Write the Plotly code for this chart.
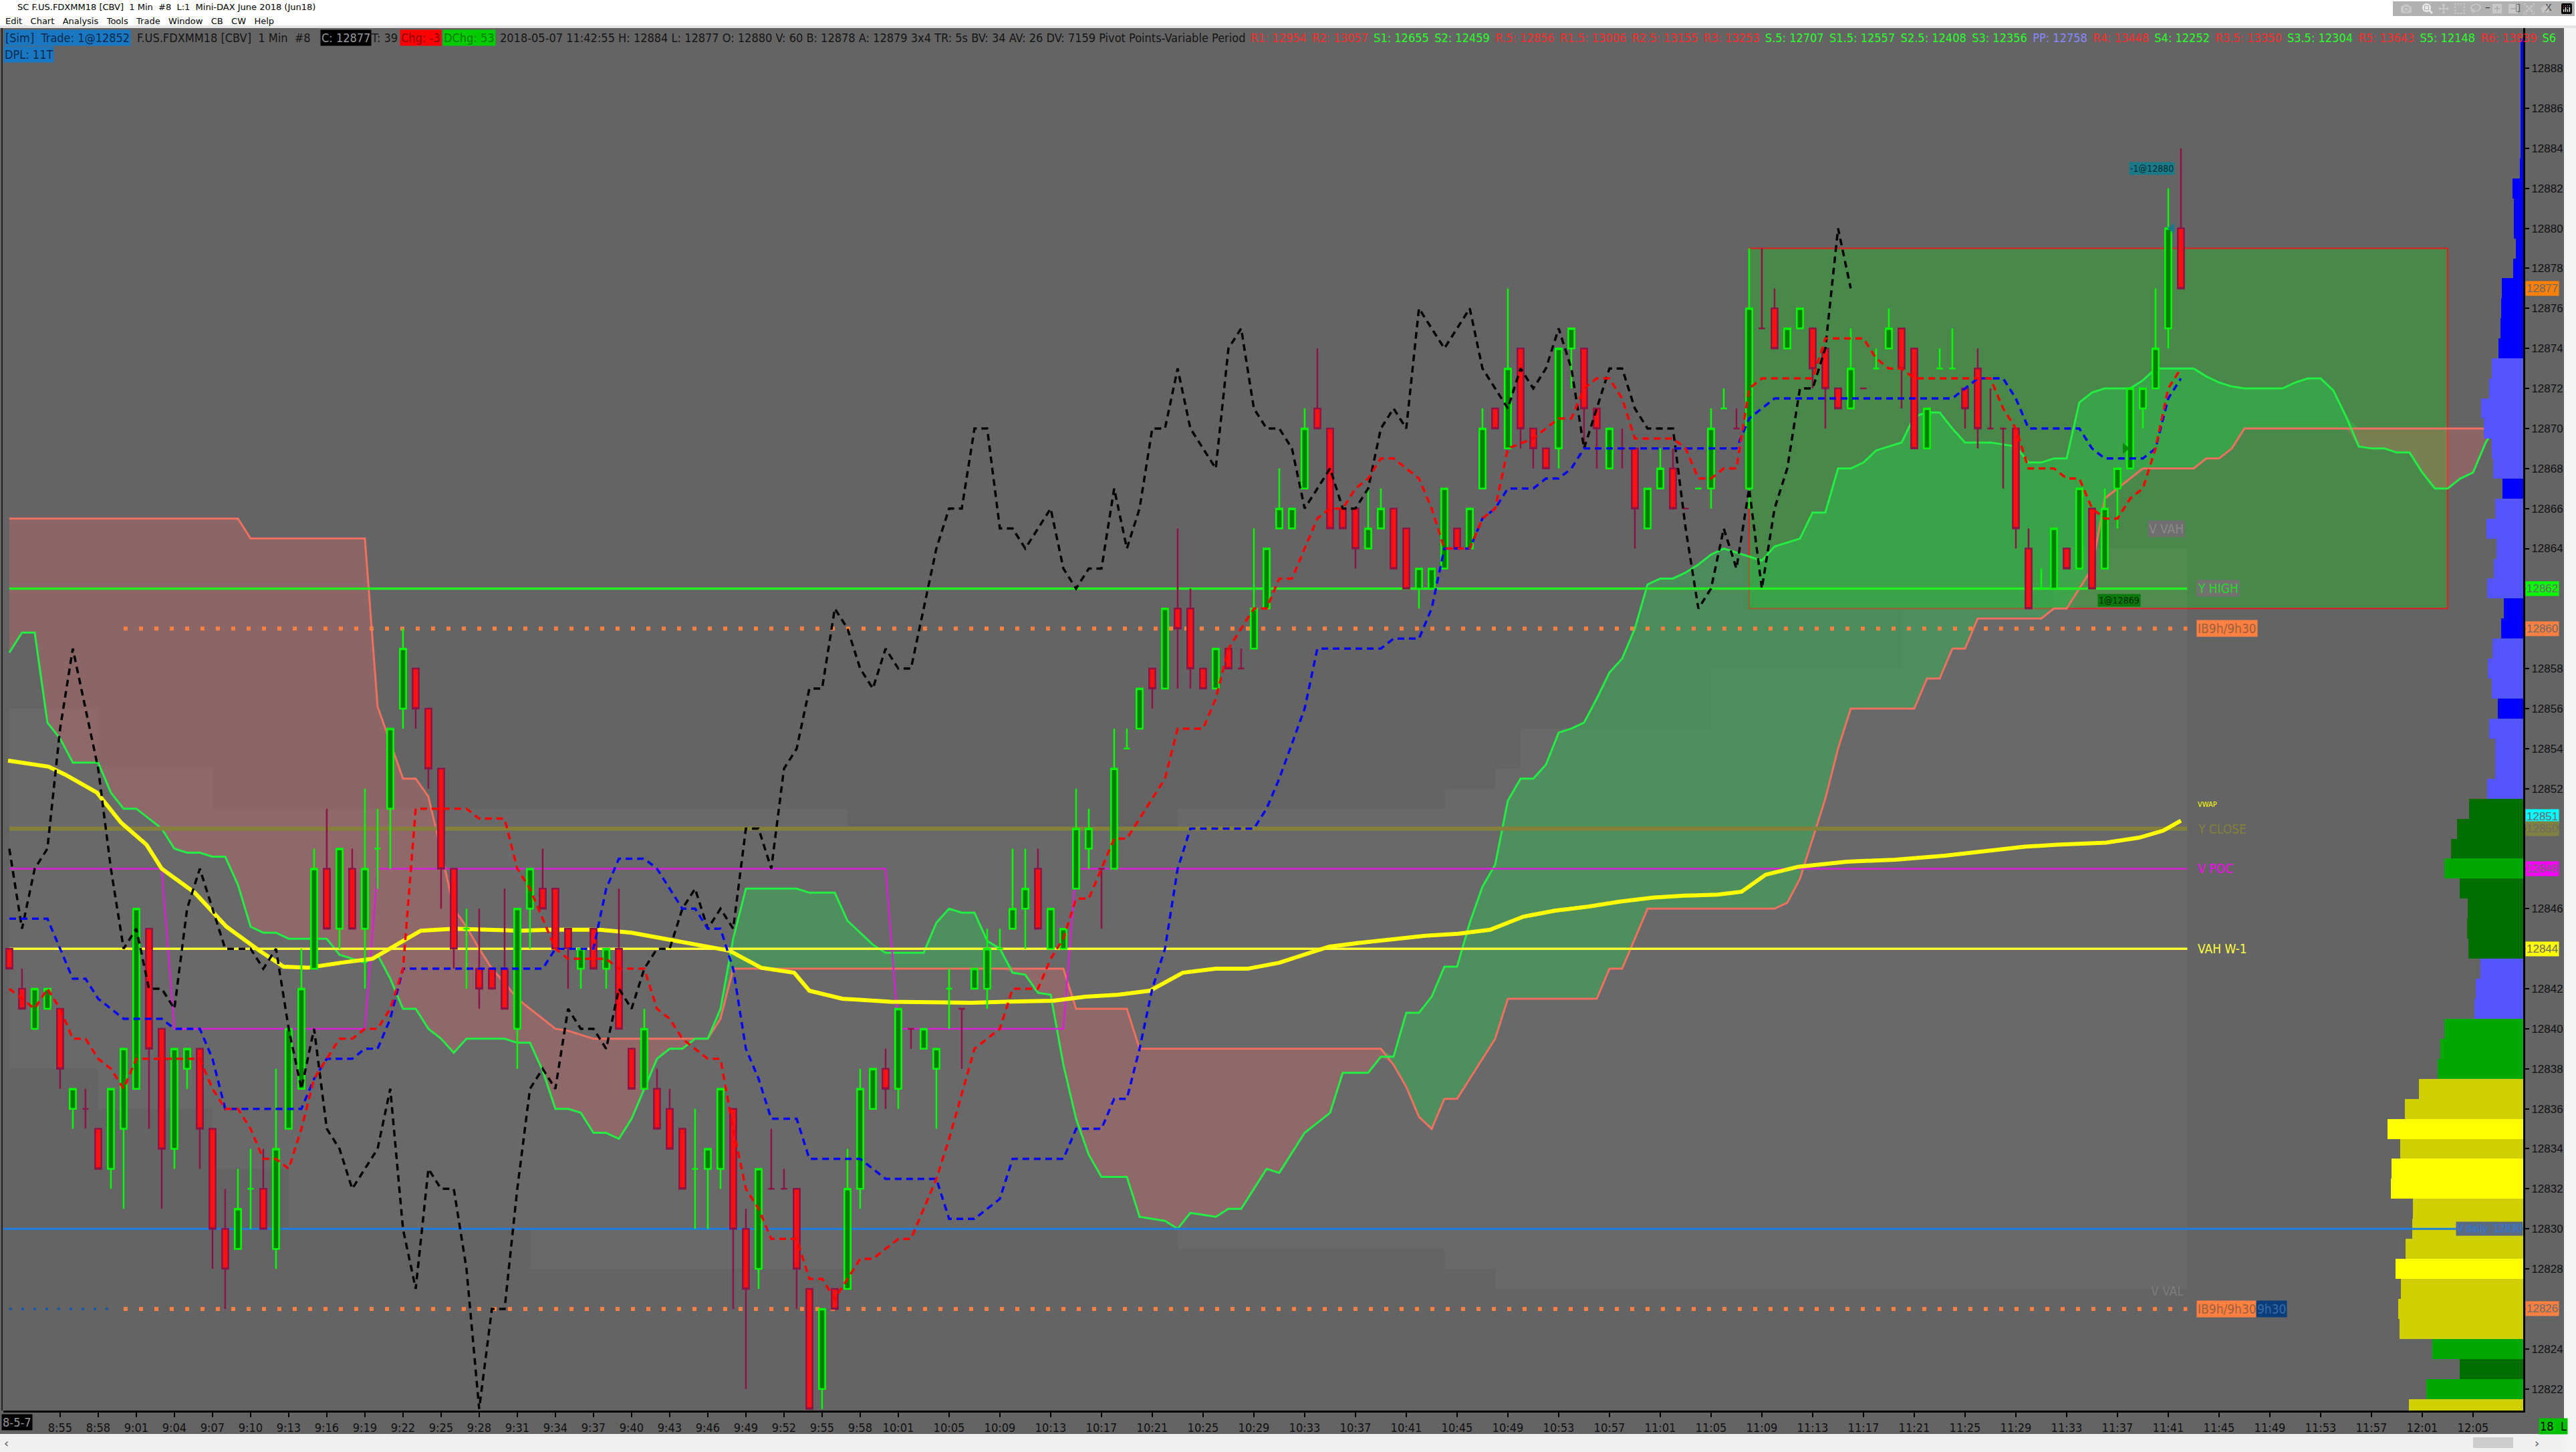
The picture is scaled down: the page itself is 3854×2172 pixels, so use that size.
import plotly.graph_objects as go

# ---------------- 1 minute bars, first bar at 8:51 ----------------
bar_open = [12844, 12842, 12840, 12841, 12841, 12836, 12836, 12835, 12833, 12835,
            12837, 12845, 12840, 12834, 12838, 12839, 12835, 12830, 12829, 12832,
            12832, 12829, 12835, 12837, 12843, 12848, 12845, 12848, 12845, 12849,
            12851, 12856, 12858, 12856, 12853, 12848, 12845, 12843, 12843, 12843,
            12840, 12846, 12847, 12847, 12845, 12843, 12845, 12843, 12844, 12839,
            12837, 12837, 12836, 12835, 12833, 12833, 12833, 12836, 12830, 12828,
            12832, 12832, 12832, 12827, 12822, 12827, 12827, 12832, 12836, 12838,
            12837, 12840, 12839, 12838, 12842, 12841, 12842, 12842, 12844, 12845,
            12846, 12848, 12844, 12844, 12847, 12849, 12848, 12848, 12854, 12855,
            12858, 12857, 12861, 12861, 12858, 12857, 12859, 12858, 12859, 12861,
            12865, 12865, 12867, 12871, 12870, 12866, 12866, 12864, 12865, 12866,
            12865, 12862, 12862, 12863, 12865, 12864, 12867, 12871, 12869, 12874,
            12870, 12869, 12869, 12874, 12874, 12871, 12868, 12869, 12869, 12865,
            12867, 12868, 12866, 12867, 12867, 12871, 12870, 12867, 12875, 12876,
            12874, 12875, 12875, 12874, 12872, 12871, 12872, 12873, 12874, 12875,
            12874, 12869, 12873, 12873, 12872, 12873, 12870, 12870, 12870, 12864,
            12862, 12862, 12864, 12863, 12866, 12863, 12867, 12868, 12871, 12872,
            12875, 12880]
bar_high = [12844, 12843, 12842, 12842, 12841, 12837, 12837, 12835, 12837, 12839,
            12846, 12845, 12840, 12839, 12839, 12839, 12835, 12832, 12833, 12834,
            12834, 12838, 12840, 12844, 12849, 12851, 12849, 12849, 12852, 12851,
            12855, 12860, 12858, 12856, 12853, 12848, 12846, 12846, 12843, 12847,
            12846, 12848, 12849, 12847, 12845, 12844, 12845, 12844, 12847, 12839,
            12841, 12838, 12837, 12835, 12836, 12834, 12837, 12836, 12831, 12833,
            12835, 12833, 12832, 12827, 12826, 12827, 12834, 12838, 12838, 12839,
            12841, 12840, 12840, 12839, 12843, 12841, 12843, 12845, 12845, 12849,
            12849, 12849, 12846, 12845, 12852, 12851, 12848, 12855, 12855, 12857,
            12858, 12861, 12865, 12862, 12858, 12859, 12859, 12859, 12865, 12864,
            12868, 12866, 12871, 12874, 12870, 12866, 12866, 12867, 12867, 12866,
            12865, 12863, 12863, 12867, 12865, 12866, 12871, 12871, 12877, 12874,
            12870, 12869, 12874, 12875, 12874, 12871, 12870, 12870, 12869, 12867,
            12869, 12869, 12866, 12867, 12871, 12872, 12871, 12879, 12879, 12877,
            12875, 12876, 12875, 12874, 12872, 12875, 12872, 12874, 12876, 12875,
            12874, 12871, 12874, 12875, 12872, 12874, 12872, 12870, 12870, 12865,
            12863, 12865, 12864, 12867, 12866, 12867, 12868, 12872, 12872, 12877,
            12882, 12884]
bar_low = [12843, 12841, 12840, 12841, 12837, 12835, 12835, 12833, 12832, 12831,
           12837, 12835, 12831, 12833, 12837, 12833, 12828, 12826, 12829, 12830,
           12830, 12828, 12835, 12837, 12843, 12845, 12844, 12845, 12842, 12847,
           12848, 12855, 12855, 12852, 12846, 12843, 12842, 12841, 12842, 12841,
           12838, 12844, 12846, 12844, 12842, 12842, 12843, 12842, 12840, 12837,
           12837, 12835, 12834, 12832, 12830, 12830, 12832, 12826, 12822, 12827,
           12832, 12832, 12826, 12821, 12821, 12826, 12827, 12831, 12836, 12836,
           12836, 12839, 12839, 12835, 12840, 12838, 12842, 12841, 12844, 12845,
           12844, 12845, 12844, 12844, 12847, 12848, 12845, 12848, 12854, 12855,
           12856, 12857, 12857, 12857, 12857, 12857, 12858, 12858, 12859, 12861,
           12865, 12865, 12867, 12870, 12865, 12865, 12863, 12864, 12865, 12863,
           12862, 12861, 12862, 12863, 12864, 12864, 12867, 12870, 12869, 12869,
           12868, 12868, 12868, 12872, 12869, 12868, 12868, 12868, 12864, 12865,
           12867, 12866, 12866, 12867, 12866, 12871, 12870, 12866, 12875, 12874,
           12874, 12875, 12872, 12870, 12871, 12871, 12872, 12873, 12874, 12871,
           12869, 12869, 12873, 12873, 12870, 12869, 12870, 12867, 12864, 12861,
           12862, 12862, 12863, 12863, 12862, 12863, 12865, 12868, 12870, 12872,
           12874, 12877]
bar_close = [12843, 12841, 12842, 12842, 12838, 12837, 12836, 12833, 12837, 12839,
             12846, 12839, 12834, 12839, 12839, 12835, 12830, 12828, 12831, 12832,
             12830, 12834, 12840, 12842, 12848, 12845, 12849, 12845, 12848, 12849,
             12855, 12859, 12856, 12853, 12848, 12844, 12845, 12842, 12842, 12841,
             12846, 12848, 12846, 12844, 12844, 12844, 12843, 12844, 12840, 12837,
             12840, 12835, 12834, 12832, 12833, 12834, 12837, 12830, 12827, 12833,
             12832, 12832, 12828, 12821, 12826, 12826, 12832, 12837, 12838, 12837,
             12841, 12840, 12840, 12839, 12842, 12841, 12843, 12844, 12844, 12846,
             12847, 12845, 12846, 12845, 12850, 12850, 12848, 12853, 12854, 12857,
             12857, 12861, 12860, 12858, 12857, 12859, 12858, 12858, 12861, 12864,
             12866, 12866, 12870, 12870, 12865, 12865, 12864, 12865, 12866, 12863,
             12862, 12863, 12863, 12867, 12864, 12866, 12870, 12870, 12873, 12870,
             12869, 12868, 12874, 12875, 12871, 12870, 12870, 12869, 12866, 12867,
             12868, 12866, 12866, 12867, 12870, 12871, 12870, 12876, 12875, 12874,
             12875, 12876, 12873, 12872, 12871, 12873, 12872, 12873, 12875, 12873,
             12869, 12871, 12873, 12873, 12871, 12870, 12870, 12870, 12865, 12861,
             12862, 12865, 12863, 12867, 12862, 12866, 12868, 12872, 12872, 12874,
             12880, 12877]
first_bar = 8 * 60 + 51
bar_minutes = [first_bar + i for i in range(len(bar_close))]
chikou_lag = 26

# ---------------- Ichimoku ----------------
tenkan_t = [531, 532, 533, 534, 535, 536, 537, 538, 539, 540, 541, 546, 547, 548, 549, 550, 551, 552,
            553, 554, 555, 556, 557, 558, 559, 560, 561, 562, 563, 567, 568, 570, 571, 572, 574, 575,
            578, 579, 581, 582, 583, 584, 586, 587, 588, 589, 590, 591, 593, 594, 595, 596, 597, 598,
            599, 601, 602, 604, 605, 607, 609, 610, 612, 613, 614, 615, 616, 617, 618, 619, 620, 622,
            623, 625, 626, 627, 629, 630, 631, 632, 633, 634, 635, 636, 637, 638, 639, 640, 641, 642,
            643, 644, 646, 647, 648, 649, 651, 652, 653, 654, 655, 656, 657, 658, 659, 662, 663, 664,
            665, 666, 667, 668, 669, 673, 674, 677, 678, 679, 680, 681, 687, 688, 689, 690, 692, 693,
            694, 695, 696, 697, 698, 699, 700, 701, 702]
tenkan_v = [12842, 12841.5, 12841, 12842, 12841, 12839.5, 12839.5, 12838.5, 12838, 12837, 12838.5,
            12838.5, 12837, 12836, 12836, 12835, 12833.5, 12833.5, 12833, 12835, 12837.5, 12838.5,
            12839.5, 12839.5, 12840, 12840, 12841, 12843, 12851, 12851, 12850.5, 12850.5, 12848,
            12847, 12844, 12843.5, 12843.5, 12843, 12843, 12841, 12840.5, 12839.5, 12838.5, 12838.5,
            12835, 12832, 12831, 12829.5, 12829.5, 12827.5, 12827.5, 12826.5, 12827.5, 12828.5,
            12828.5, 12829.5, 12829.5, 12832.5, 12834.5, 12839, 12840, 12842, 12842, 12843.5,
            12844.5, 12846.5, 12846.5, 12848, 12849.5, 12849.5, 12850.5, 12852.5, 12855, 12855,
            12856.5, 12859, 12861, 12861, 12862.5, 12862.5, 12864, 12865.5, 12866, 12866, 12867,
            12867.5, 12868.5, 12868.5, 12868, 12867.5, 12866, 12864, 12864, 12865.5, 12866, 12869,
            12869.5, 12870, 12870.5, 12870.5, 12872, 12872.5, 12872.5, 12871.5, 12869.5, 12869.5,
            12869, 12867.5, 12867.5, 12868, 12868, 12872, 12872.5, 12872.5, 12874.5, 12874.5,
            12873.5, 12873, 12873, 12872.5, 12872.5, 12871, 12870, 12868, 12868, 12867.5, 12867.5,
            12866, 12865.5, 12865.5, 12866.5, 12867, 12869, 12872, 12873]
kijun_t = [531, 534, 535, 536, 537, 538, 539, 540, 543, 544, 546, 547, 548, 554, 555, 556, 558, 559,
           560, 561, 562, 573, 574, 577, 578, 579, 581, 582, 583, 584, 585, 586, 587, 588, 589, 590,
           591, 593, 594, 598, 599, 600, 604, 605, 607, 609, 610, 614, 615, 617, 618, 619, 620, 621,
           622, 623, 624, 629, 630, 631, 633, 634, 639, 640, 642, 643, 644, 646, 647, 648, 649, 651,
           652, 653, 654, 655, 667, 668, 670, 684, 685, 686, 688, 689, 690, 694, 695, 696, 699, 700,
           701, 702]
kijun_v = [12845.5, 12845.5, 12844, 12842.5, 12842.5, 12841.5, 12841, 12840.5, 12840.5, 12840, 12840,
           12838.5, 12836, 12836, 12837.5, 12838.5, 12838.5, 12839, 12839, 12840.5, 12843, 12843,
           12844, 12844, 12847, 12848.5, 12848.5, 12848, 12847, 12846, 12846, 12845, 12845, 12843,
           12839, 12837.5, 12835.5, 12835.5, 12833.5, 12833.5, 12833, 12832.5, 12832.5, 12830.5,
           12830.5, 12831.5, 12833.5, 12833.5, 12835, 12835, 12836.5, 12836.5, 12839, 12842, 12844,
           12848, 12850, 12850, 12851, 12852.5, 12856, 12859, 12859, 12859.5, 12859.5, 12861, 12864,
           12864, 12865.5, 12866, 12867, 12867, 12867.5, 12867.5, 12868, 12869, 12869, 12870.5,
           12871.5, 12871.5, 12872, 12872.5, 12872.5, 12871.5, 12870, 12870, 12869, 12868.5,
           12868.5, 12869, 12871.5, 12872.5]

# senkou spans, one value per minute from 8:51 to 12:08
span_a = [12858.8, 12859.8, 12859.8, 12855.3, 12854.5, 12853.3, 12853.3, 12853.3, 12851.8, 12851.0,
          12851.0, 12850.5, 12850.0, 12849.0, 12848.8, 12848.8, 12848.6, 12848.6, 12847.2, 12845.1,
          12844.8, 12844.8, 12844.5, 12844.5, 12844.5, 12844.5, 12843.7, 12843.5, 12843.3, 12843.7,
          12842.5, 12841.0, 12841.0, 12840.0, 12839.5, 12838.8, 12839.5, 12839.5, 12839.5, 12839.5,
          12839.3, 12839.3, 12837.9, 12836.0, 12836.0, 12835.8, 12834.8, 12834.8, 12834.5, 12835.5,
          12837.0, 12838.5, 12839.0, 12839.0, 12839.5, 12839.5, 12841.0, 12844.5, 12847.0, 12847.0,
          12847.0, 12847.0, 12847.0, 12846.8, 12846.8, 12846.8, 12845.4, 12844.8, 12844.2, 12843.8,
          12843.8, 12843.8, 12843.8, 12845.3, 12846.0, 12845.8, 12845.8, 12844.4, 12844.0, 12842.8,
          12842.7, 12841.8, 12841.7, 12838.2, 12835.5, 12833.7, 12832.6, 12832.6, 12832.6, 12830.6,
          12830.5, 12830.4, 12830.0, 12830.8, 12830.7, 12830.6, 12831.0, 12831.0, 12832.0, 12833.0,
          12832.8, 12833.8, 12834.8, 12835.3, 12835.8, 12837.8, 12837.8, 12837.8, 12838.6, 12838.6,
          12840.8, 12840.8, 12841.6, 12843.1, 12843.1, 12845.3, 12847.1, 12848.2, 12851.4, 12852.5,
          12852.5, 12853.2, 12854.8, 12855.0, 12855.3, 12856.5, 12857.8, 12858.5, 12860.0, 12862.2,
          12862.5, 12862.5, 12862.8, 12863.2, 12863.7, 12864.0, 12863.8, 12863.6, 12863.4, 12864.1,
          12864.3, 12864.5, 12865.8, 12865.8, 12868.0, 12868.0, 12868.3, 12868.9, 12869.1, 12869.3,
          12870.6, 12870.8, 12870.8, 12870.0, 12869.3, 12869.3, 12869.3, 12869.2, 12869.1, 12868.3,
          12868.3, 12868.5, 12868.5, 12871.3, 12871.8, 12872.0, 12872.0, 12872.0, 12872.4, 12873.0,
          12873.0, 12873.0, 12873.0, 12872.6, 12872.3, 12872.1, 12872.0, 12872.0, 12872.0, 12872.0,
          12872.3, 12872.5, 12872.5, 12871.9, 12870.6, 12869.1, 12869.0, 12869.0, 12868.8, 12868.8,
          12867.8, 12867.0, 12867.0, 12867.5, 12867.8, 12869.3, 12870.3, 12871.0]
span_b = [12865.5, 12865.5, 12865.5, 12865.5, 12865.5, 12865.5, 12865.5, 12865.5, 12865.5, 12865.5,
          12865.5, 12865.5, 12865.5, 12865.5, 12865.5, 12865.5, 12865.5, 12865.5, 12865.5, 12864.5,
          12864.5, 12864.5, 12864.5, 12864.5, 12864.5, 12864.5, 12864.5, 12864.5, 12864.5, 12856.1,
          12854.3, 12852.5, 12852.5, 12851.6, 12848.9, 12846.0, 12845.1, 12844.0, 12843.0, 12842.3,
          12841.5, 12841.0, 12840.5, 12840.0, 12839.9, 12839.7, 12839.5, 12839.5, 12839.5, 12839.5,
          12839.5, 12839.5, 12839.5, 12839.5, 12839.5, 12839.5, 12840.5, 12843.0, 12843.0, 12843.0,
          12843.0, 12843.0, 12843.0, 12843.0, 12843.0, 12843.0, 12843.0, 12843.0, 12843.0, 12843.0,
          12843.0, 12843.0, 12843.0, 12843.0, 12843.0, 12843.0, 12843.0, 12843.0, 12843.0, 12843.0,
          12843.0, 12843.0, 12843.0, 12843.0, 12841.0, 12841.0, 12841.0, 12841.0, 12841.0, 12839.0,
          12839.0, 12839.0, 12839.0, 12839.0, 12839.0, 12839.0, 12839.0, 12839.0, 12839.0, 12839.0,
          12839.0, 12839.0, 12839.0, 12839.0, 12839.0, 12839.0, 12839.0, 12839.0, 12839.0, 12838.2,
          12837.1, 12835.6, 12835.0, 12836.5, 12836.5, 12837.5, 12838.5, 12839.5, 12841.5, 12841.5,
          12841.5, 12841.5, 12841.5, 12841.5, 12841.5, 12841.5, 12843.0, 12843.0, 12844.5, 12846.0,
          12846.0, 12846.0, 12846.0, 12846.0, 12846.0, 12846.0, 12846.0, 12846.0, 12846.0, 12846.0,
          12846.3, 12847.5, 12849.5, 12851.5, 12854.0, 12856.0, 12856.0, 12856.0, 12856.0, 12856.0,
          12856.0, 12857.5, 12857.5, 12859.0, 12859.0, 12860.5, 12860.5, 12860.5, 12860.5, 12860.5,
          12860.5, 12861.0, 12861.0, 12862.0, 12863.0, 12866.5, 12867.0, 12867.5, 12868.0, 12868.0,
          12868.0, 12868.0, 12868.0, 12868.5, 12868.5, 12869.0, 12870.0, 12870.0, 12870.0, 12870.0,
          12870.0, 12870.0, 12870.0, 12870.0, 12870.0, 12870.0, 12870.0, 12870.0, 12870.0, 12870.0,
          12870.0, 12870.0, 12870.0, 12870.0, 12870.0, 12870.0, 12870.0, 12870.0]
cloud_minutes = [531 + i for i in range(len(span_a))]

# ---------------- VWAP and developing value area ----------------
vwap_t = [530.9, 534.1, 535.4, 537.9, 539.8, 541.8, 543.0, 545.6, 548.1, 550.7, 552.6, 554.5, 557.1,
          559.6, 561.5, 563.4, 566.0, 568.5, 571.1, 573.6, 577.5, 580.0, 582.6, 585.1, 587.7, 590.2,
          592.8, 594.0, 596.6, 600.4, 606.8, 609.4, 613.2, 615.7, 618.3, 620.8, 623.4, 626.0, 628.5,
          631.0, 633.6, 634.9, 637.4, 640.0, 642.5, 645.1, 647.6, 650.2, 652.7, 655.3, 657.8, 660.4,
          662.9, 665.5, 667.4, 669.3, 671.9, 675.7, 679.5, 683.4, 687.2, 689.7, 692.3, 696.1, 698.7,
          700.6, 702.0]
vwap_v = [12853.4, 12853.1, 12852.7, 12851.8, 12850.3, 12849.2, 12848.0, 12846.8, 12845.1, 12843.9,
          12843.1, 12843.05, 12843.3, 12843.5, 12844.2, 12844.9, 12845.0, 12844.95, 12844.9, 12844.95,
          12844.95, 12844.8, 12844.5, 12844.2, 12843.9, 12843.05, 12842.8, 12841.9, 12841.5, 12841.35,
          12841.3, 12841.35, 12841.4, 12841.6, 12841.7, 12841.9, 12842.8, 12843.0, 12843.0, 12843.3,
          12843.8, 12844.1, 12844.3, 12844.5, 12844.65, 12844.75, 12844.95, 12845.6, 12845.9, 12846.1,
          12846.35, 12846.55, 12846.65, 12846.7, 12846.85, 12847.7, 12848.1, 12848.35, 12848.45,
          12848.65, 12848.9, 12849.1, 12849.2, 12849.3, 12849.55, 12849.9, 12850.4]
va_t = [531, 538, 547, 553, 572, 597, 606, 623, 644, 648, 650, 665, 680, 692, 702.5]
va_high = [12856, 12853, 12851, 12851, 12851, 12850, 12850, 12851, 12852, 12853, 12855, 12858, 12861,
           12864, 12864]
va_low = [12838, 12836, 12833, 12830, 12828, 12830, 12830, 12829, 12828, 12827, 12827, 12827, 12827,
          12827, 12827]

# developing POC (step line)
poc_t = [531, 543, 544, 559, 560, 600, 601, 614, 615, 702.5]
poc_v = [12848, 12848, 12840, 12840, 12848, 12848, 12840, 12840, 12848, 12848]

# ---------------- reference levels ----------------
y_high = 12862
ib_high = 12860
y_close = 12850
v_poc = 12848
vah_w1 = 12844
ib_low = 12826
v_daily = 12830
last_price = 12877

# ---------------- volume profile ----------------
profile_prices = [12889, 12888, 12887, 12886, 12885, 12884, 12883, 12882, 12881, 12880,
                  12879, 12878, 12877, 12876, 12875, 12874, 12873, 12872, 12871, 12870,
                  12869, 12868, 12867, 12866, 12865, 12864, 12863, 12862, 12861, 12860,
                  12859, 12858, 12857, 12856, 12855, 12854, 12853, 12852, 12851, 12850,
                  12849, 12848, 12847, 12846, 12845, 12844, 12843, 12842, 12841, 12840,
                  12839, 12838, 12837, 12836, 12835, 12834, 12833, 12832, 12831, 12830,
                  12829, 12828, 12827, 12826, 12825, 12824, 12823, 12822, 12821]
profile_volume = [4, 4, 4, 4, 4, 4, 5, 16, 14, 14,
                  11, 15, 32, 33, 34, 37, 47, 51, 63, 59,
                  47, 45, 31, 42, 55, 40, 44, 54, 29, 33,
                  46, 53, 47, 38, 51, 42, 42, 54, 81, 99,
                  108, 118, 95, 83, 84, 82, 64, 71, 73, 118,
                  124, 128, 156, 177, 203, 184, 197, 198, 165, 166,
                  176, 191, 183, 187, 185, 136, 95, 145, 171]
profile_zone = ["hi", "hi", "hi", "hi", "hi", "hi", "hi", "hi", "hi", "hi",
                "hi", "hi", "hi", "hi", "hi", "hi", "va", "va", "va", "va",
                "va", "va", "hi", "va", "va", "va", "va", "va", "hi", "hi",
                "va", "va", "va", "hi", "va", "va", "va", "va", "dg", "dg",
                "dg", "g", "dg", "dg", "dg", "dg", "va", "va", "va", "g",
                "g", "g", "ol", "ol", "ye", "ol", "ye", "ye", "ol", "ol",
                "ol", "ye", "ol", "ol", "ol", "g", "dg", "g", "ol"]
zone_colors = {"hi": "#0000ff", "va": "#5555ff", "dg": "#006e00", "g": "#00a800",
               "ol": "#d0d000", "ye": "#ffff00"}

# ---------------- axis ticks ----------------
tick_labels = ["8:55", "8:58", "9:01", "9:04", "9:07", "9:10", "9:13", "9:16", "9:19", "9:22",
               "9:25", "9:28", "9:31", "9:34", "9:37", "9:40", "9:43", "9:46", "9:49", "9:52",
               "9:55", "9:58", "10:01", "10:05", "10:09", "10:13", "10:17", "10:21", "10:25",
               "10:29", "10:33", "10:37", "10:41", "10:45", "10:49", "10:53", "10:57", "11:01",
               "11:05", "11:09", "11:13", "11:17", "11:21", "11:25", "11:29", "11:33", "11:37",
               "11:41", "11:45", "11:49", "11:53", "11:57", "12:01", "12:05"]
tick_vals = [int(s.split(":")[0]) * 60 + int(s.split(":")[1]) for s in tick_labels]
price_ticks = list(range(12822, 12890, 2))

# price badges drawn on the axis (value, background)
badges = [(last_price, "#ff8000"), (y_high, "#00ff00"), (ib_high, "#ff8040"),
          (12850.6, "#00ffff"), (y_close, "#808040"), (v_poc, "#ff00ff"), (vah_w1, "#ffff00"),
          (ib_low, "#ff8040")]
badge_prices = {int(round(p)) for p, _ in badges}
price_text = ["" if p in badge_prices else str(p) for p in price_ticks]

# ---------------- geometry ----------------
W, H = 3854, 2172
ML, MR, MT, MB = 5, 79, 42, 62
X_RANGE = [530.53, 728.95]
Y_RANGE = [12820.92, 12890.01]
LEVEL_END = 702.5
LABEL_X = 703.2
COND = "DejaVu Sans Condensed, Liberation Sans Narrow, DejaVu Sans"
HEAD = 18
LBL = 19


def px(x):
    return (x - ML) / (W - ML - MR)


def py(y):
    return 1 - (y - MT) / (H - MT - MB)


fig = go.Figure()

# value area band
fig.add_trace(go.Scatter(x=va_t, y=va_low, mode="lines", line=dict(width=0, shape="hv"),
                         hoverinfo="skip"))
fig.add_trace(go.Scatter(x=va_t, y=va_high, mode="lines", line=dict(width=0, shape="hv"),
                         fill="tonexty", fillcolor="rgba(255,255,255,0.035)", hoverinfo="skip"))

# cloud fills
cloud_top = [max(a, b) for a, b in zip(span_a, span_b)]
cloud_bot = [min(a, b) for a, b in zip(span_a, span_b)]
fig.add_trace(go.Scatter(x=cloud_minutes, y=span_b, mode="lines", line=dict(width=0),
                         hoverinfo="skip"))
fig.add_trace(go.Scatter(x=cloud_minutes, y=cloud_top, mode="lines", line=dict(width=0),
                         fill="tonexty", fillcolor="rgba(30,215,70,0.34)", hoverinfo="skip"))
fig.add_trace(go.Scatter(x=cloud_minutes, y=span_b, mode="lines", line=dict(width=0),
                         hoverinfo="skip"))
fig.add_trace(go.Scatter(x=cloud_minutes, y=cloud_bot, mode="lines", line=dict(width=0),
                         fill="tonexty", fillcolor="rgba(255,110,110,0.26)", hoverinfo="skip"))
fig.add_trace(go.Scatter(x=cloud_minutes, y=span_b, mode="lines",
                         line=dict(color="#f07060", width=3)))
fig.add_trace(go.Scatter(x=cloud_minutes, y=span_a, mode="lines",
                         line=dict(color="#22ee44", width=3)))

# horizontal levels
fig.add_trace(go.Scatter(x=[531, LEVEL_END], y=[y_close, y_close], mode="lines",
                         line=dict(color="#85803a", width=6)))
fig.add_trace(go.Scatter(x=poc_t, y=poc_v, mode="lines", line=dict(color="#d820d8", width=2.5)))
fig.add_trace(go.Scatter(x=[531, LEVEL_END], y=[vah_w1, vah_w1], mode="lines",
                         line=dict(color="#ffff30", width=3.5)))
fig.add_trace(go.Scatter(x=[531, LEVEL_END], y=[y_high, y_high], mode="lines",
                         line=dict(color="#22ee22", width=3.5)))
for lvl in (ib_high, ib_low):
    fig.add_trace(go.Scatter(x=[540, LEVEL_END], y=[lvl, lvl], mode="lines",
                             line=dict(color="#ff8040", width=6, dash="6px,17px")))
fig.add_trace(go.Scatter(x=[531, 539.5], y=[ib_low, ib_low], mode="lines",
                         line=dict(color="#1a5aa8", width=4, dash="4px,14px")))

# VWAP
fig.add_trace(go.Scatter(x=vwap_t, y=vwap_v, mode="lines", line=dict(color="#ffff00", width=6)))

# candles (overlay subplot so they sit above the fills)
fig.add_trace(go.Candlestick(
    x=bar_minutes, open=bar_open, high=bar_high, low=bar_low, close=bar_close,
    xaxis="x3", yaxis="y", whiskerwidth=0,
    increasing=dict(fillcolor="#008000", line=dict(color="#00ff00", width=2.5)),
    decreasing=dict(fillcolor="#ff1010", line=dict(color="#8c1446", width=2.5)),
    hoverinfo="skip"))

# chikou, kijun, tenkan
fig.add_trace(go.Scatter(x=bar_minutes[:-chikou_lag], y=bar_close[chikou_lag:], mode="lines",
                         xaxis="x3", line=dict(color="#000000", width=3.5, dash="10px,7px")))
fig.add_trace(go.Scatter(x=kijun_t, y=kijun_v, mode="lines", xaxis="x3",
                         line=dict(color="#0000ff", width=3.5, dash="10px,7px")))
fig.add_trace(go.Scatter(x=tenkan_t, y=tenkan_v, mode="lines", xaxis="x3",
                         line=dict(color="#ff0000", width=3.5, dash="10px,7px")))

# trade markers
fig.add_trace(go.Scatter(x=[701.3], y=[12880], mode="markers", xaxis="x3",
                         marker=dict(symbol="triangle-left", size=14, color="#1a7a88")))
fig.add_trace(go.Scatter(x=[697.6], y=[12869], mode="markers", xaxis="x3",
                         marker=dict(symbol="triangle-right", size=14, color="#0a8a0a")))

# volume profile
fig.add_trace(go.Bar(x=profile_volume, y=profile_prices, orientation="h", width=1,
                     xaxis="x2", yaxis="y",
                     marker=dict(color=[zone_colors[z] for z in profile_zone], line=dict(width=0)),
                     hoverinfo="skip"))
fig.add_trace(go.Scatter(x=[W - ML - MR, 0], y=[v_daily, v_daily], mode="lines", xaxis="x2",
                         line=dict(color="#1e7ee0", width=3)))

# ---------------- shapes ----------------
shapes = [
    dict(type="rect", xref="x", yref="y", x0=668, x1=723, y0=12861, y1=12879,
         fillcolor="rgba(20,205,20,0.33)", line=dict(color="#e02020", width=2), layer="below"),
    dict(type="rect", xref="paper", yref="paper", x0=px(-5), x1=px(W + 5), y0=py(0), y1=py(41),
         fillcolor="#ffffff", line=dict(width=0), layer="above"),
    dict(type="rect", xref="paper", yref="paper", x0=px(-5), x1=px(W + 5), y0=py(38), y1=py(42),
         fillcolor="#e4e4e4", line=dict(width=0), layer="above"),
    dict(type="rect", xref="paper", yref="paper", x0=px(-5), x1=px(W + 5), y0=py(2145),
         y1=py(H + 5), fillcolor="#f0f0f0", line=dict(width=0), layer="above"),
    dict(type="rect", xref="paper", yref="paper", x0=px(3836), x1=px(W + 5), y0=py(42),
         y1=py(H + 5), fillcolor="#f4f4f4", line=dict(width=0), layer="above"),
    dict(type="rect", xref="paper", yref="paper", x0=px(3700), x1=px(3760), y0=py(2150),
         y1=py(2166), fillcolor="#cdcdcd", line=dict(width=0), layer="above"),
    dict(type="line", xref="paper", yref="paper", x0=px(3), x1=px(3), y0=py(42), y1=py(2110),
         line=dict(color="#222222", width=2), layer="above"),
]

# ---------------- annotations ----------------
ann = []


def label(x, y, text, color, bg=None, size=HEAD, xref="paper", yref="paper", anchor="left",
          family=COND, pad=1):
    ann.append(dict(x=x, y=y, xref=xref, yref=yref, text=text, showarrow=False,
                    xanchor=anchor, yanchor="middle", bgcolor=bg, borderpad=pad,
                    font=dict(family=family, size=size, color=color)))


# window title + menu
label(px(24), py(11), "SC F.US.FDXMM18 [CBV]  1 Min  #8  L:1  Mini-DAX June 2018 (Jun18)",
      "#000000", size=13, family="DejaVu Sans")
label(px(6), py(31), "Edit   Chart   Analysis   Tools   Trade   Window   CB   CW   Help",
      "#000000", size=13, family="DejaVu Sans")
label(px(3722), py(11), "\u2013", "#000000", size=15, anchor="center", family="DejaVu Sans")
label(px(3767), py(11), "\u25AF", "#000000", size=15, anchor="center", family="DejaVu Sans")
label(px(3813), py(11), "X", "#000000", size=14, anchor="center", family="DejaVu Sans")

# header line
label(px(6), py(57), "[Sim]  Trade: 1@12852", "#0b2a4e", bg="#1a78c2")
label(px(203), py(57), "F.US.FDXMM18 [CBV]  1 Min  #8", "#151515")
label(px(479), py(57), "C: 12877", "#9a9a9a", bg="#000000")
label(px(553), py(57), "T: 39", "#151515")
label(px(598), py(57), "Chg: -3", "#8a0000", bg="#ff0000")
label(px(662), py(57), "DChg: 53", "#007a00", bg="#00cc00")
label(px(746), py(57), "2018-05-07 11:42:55 H: 12884 L: 12877 O: 12880 V: 60 B: 12878 A: 12879 "
      "3x4 TR: 5s BV: 34 AV: 26 DV: 7159 Pivot Points-Variable Period", "#151515")
pivot_items = [("R1: 12954", "r"), ("R2: 13057", "r"), ("S1: 12655", "g"), ("S2: 12459", "g"),
               ("R.5: 12856", "r"), ("R1.5: 13006", "r"), ("R2.5: 13155", "r"), ("R3: 13253", "r"),
               ("S.5: 12707", "g"), ("S1.5: 12557", "g"), ("S2.5: 12408", "g"), ("S3: 12356", "g"),
               ("PP: 12758", "p"), ("R4: 13448", "r"), ("S4: 12252", "g"), ("R3.5: 13350", "r"),
               ("S3.5: 12304", "g"), ("R5: 13643", "r"), ("S5: 12148", "g"), ("R6: 13839", "r"),
               ("S6", "g")]
pivot_colors = {"r": "#ff2a2a", "g": "#2aff2a", "p": "#8888ff"}
label(px(1869), py(57), " \u2009".join('<span style="color:%s">%s</span>' % (pivot_colors[c], t)
                                       for t, c in pivot_items), "#ff2a2a")
label(px(5), py(81), "DPL: 11T", "#0b2a4e", bg="#1a78c2")

# level labels
label(LABEL_X, y_high, "Y HIGH", "#22dd22", bg="#727272", size=LBL, xref="x", yref="y")
label(LABEL_X, ib_high, "IB9h/9h30", "#9a6040", bg="#ff8040", size=LBL, xref="x", yref="y")
label(LABEL_X, 12851.2, "VWAP", "#ffff00", size=11, xref="x", yref="y")
label(LABEL_X, y_close, "Y CLOSE", "#85803a", size=LBL, xref="x", yref="y")
label(LABEL_X, v_poc, "V POC", "#ff00ff", size=LBL, xref="x", yref="y")
label(LABEL_X, vah_w1, "VAH W-1", "#ffff40", size=LBL, xref="x", yref="y")
label(LABEL_X, ib_low, "IB9h/9h30", "#9a6040", bg="#ff8040", size=LBL, xref="x", yref="y")
label(707.9, ib_low, "9h30", "#3a6aa8", bg="#0b3d7a", size=LBL, xref="x", yref="y")
label(LEVEL_END - 0.2, 12865, "V VAH", "#8a8a8a", bg="#6e6e6e", size=LBL, xref="x", yref="y",
      anchor="right")
label(LEVEL_END - 0.2, 12826.9, "V VAL", "#7c7c7c", size=LBL, xref="x", yref="y", anchor="right")
label(697.9, 12883, "-1@12880", "#0a2a30", bg="#1a7a88", size=14, xref="x", yref="y")
label(695.4, 12861.4, "1@12869", "#002a00", bg="#0a7a0a", size=14, xref="x", yref="y")
label(1.0, v_daily, "V daily  12830", "#2a7ae0", bg="#5a6a80", size=15, yref="y", anchor="right")

# price badges on the axis
for price, bg in badges:
    ann.append(dict(x=1, y=price, xref="paper", yref="y", text=str(int(round(price))),
                    showarrow=False, xanchor="left", yanchor="middle", xshift=3, bgcolor=bg,
                    borderpad=1, font=dict(family="Liberation Sans", size=17, color="#6a6a6a")))

# time axis date label and bottom-right badge
label(px(2), py(2127), "8-5-7", "#9a9a9a", bg="#000000", size=18)
label(px(3798), py(2133), "18  L", "#000000", bg="#00c000", size=18)
label(px(4), py(2158), "\u2039", "#555555", size=18, family="DejaVu Sans")
label(px(3790), py(2158), "\u203A", "#555555", size=18, family="DejaVu Sans")

fig.update_layout(
    width=W, height=H, autosize=False,
    margin=dict(l=ML, r=MR, t=MT, b=MB, pad=0),
    paper_bgcolor="#646464", plot_bgcolor="#646464",
    showlegend=False, bargap=0, hovermode=False,
    xaxis=dict(range=X_RANGE, tickvals=tick_vals, ticktext=tick_labels, showgrid=False,
               zeroline=False, showline=True, linecolor="#000000", linewidth=3,
               ticks="outside", ticklen=7, tickwidth=2, tickcolor="#000000",
               tickfont=dict(family=COND, size=18, color="#111111"),
               rangeslider=dict(visible=False)),
    xaxis2=dict(range=[W - ML - MR, 0], overlaying="x", anchor="y", visible=False),
    xaxis3=dict(range=X_RANGE, overlaying="x", anchor="y", visible=False,
                rangeslider=dict(visible=False)),
    yaxis=dict(range=Y_RANGE, side="right", tickvals=price_ticks, ticktext=price_text,
               showgrid=False, zeroline=False, showline=True, linecolor="#000000", linewidth=3,
               ticks="outside", ticklen=6, tickwidth=2, tickcolor="#000000",
               tickfont=dict(family="Liberation Sans", size=17, color="#111111")),
    shapes=shapes,
    annotations=ann,
)

fig.write_html("out.html", post_script="document.body.style.margin='0';"
                                       "document.body.style.overflow='hidden';")
